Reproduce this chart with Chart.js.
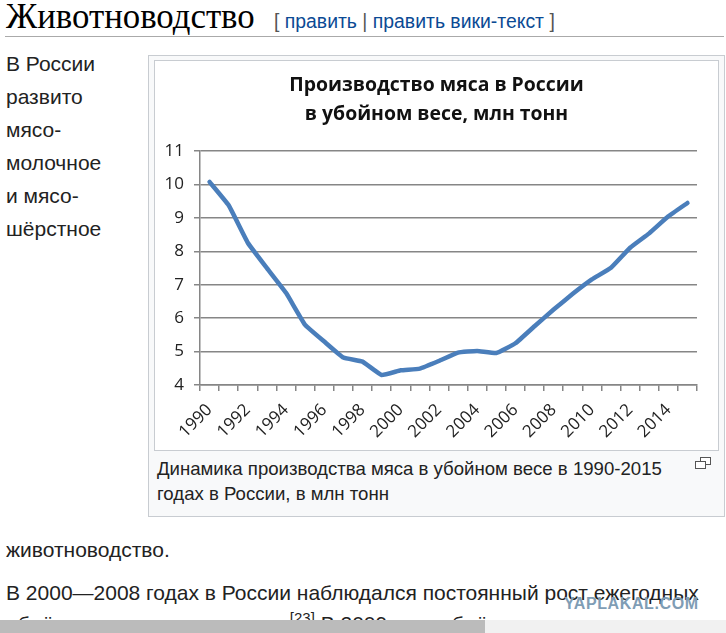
<!DOCTYPE html>
<html lang="ru">
<head>
<meta charset="utf-8">
<title>Животноводство</title>
<script src="https://cdn.jsdelivr.net/npm/chart.js@4"></script>
<style>
html, body { margin: 0; padding: 0; background: #fff; overflow: hidden; }
body { width: 726px; height: 633px; position: relative; font-family: "Liberation Sans", sans-serif; color: #222; }
.t { position: absolute; white-space: nowrap; font-size: 21px; line-height: 24px; }
.t a { color: #0b4a94; text-decoration: none; }
.t .g { color: #555; }
#heading { left: 6px; top: 0; font-family: "Liberation Serif", serif; font-size: 34.8px; line-height: 34px; color: #000; }
#edit { left: 274px; top: 9px; font-size: 19.4px; }
#rule { position: absolute; left: 5px; top: 36px; width: 719px; height: 1px; background: #aaa; }
#figure { position: absolute; left: 148px; top: 55px; width: 575px; height: 460px; background: #f8f9fa; border: 1px solid #c8ccd1; }
#frame { position: absolute; left: 154px; top: 60px; width: 563px; height: 389px; background: #fff; border: 1px solid #c8ccd1; }
#frame canvas { display: block; }
.t.cap { font-size: 18.6px; }
.icon { position: absolute; width: 9px; height: 6px; border: 1px solid #555; background: #fff; }
#bar { position: absolute; left: 0; top: 620px; width: 726px; height: 13px; background: #f1f1f1; }
#thumb { position: absolute; left: 0; top: 0; width: 485px; height: 13px; background: #bbb; }
#mark { left: 564px; top: 592px; font-size: 16px; font-weight: bold; color: #7f9db5; letter-spacing: .6px; }
sup { font-size: 15px; line-height: 0; }
</style>
</head>
<body>
<div class="t" id="heading">Животноводство</div>
<div class="t" id="edit"><span class="g">[</span> <a>править</a> <span class="g">|</span> <a>править вики-текст</a> <span class="g">]</span></div>
<div id="rule"></div>

<div class="t" style="left:6px;top:52px">В России</div>
<div class="t" style="left:6px;top:85px">развито</div>
<div class="t" style="left:6px;top:118px">мясо-</div>
<div class="t" style="left:6px;top:151px">молочное</div>
<div class="t" style="left:6px;top:184px">и мясо-</div>
<div class="t" style="left:6px;top:217px">шёрстное</div>

<div id="figure"></div>
<div id="frame"><canvas id="meatChart"></canvas></div>
<div class="t cap" style="left:157px;top:457px">Динамика производства мяса в убойном весе в 1990-2015</div>
<div class="t cap" style="left:157px;top:482px">годах в России, в млн тонн</div>
<div class="icon" style="left:700px;top:457px"></div>
<div class="icon" style="left:695px;top:461px"></div>

<div class="t" style="left:6px;top:538px">животноводство.</div>
<div class="t" style="left:6px;top:581px">В 2000—2008 годах в России наблюдался постоянный рост ежегодных</div>
<div class="t" style="left:6px;top:612px">объёмов производства мяса.<sup>[23]</sup> В 2009 году объём</div>
<div class="t" id="mark">YAPLAKAL.COM</div>
<div id="bar"><div id="thumb"></div></div>

<script>
var years = ['1990','1991','1992','1993','1994','1995','1996','1997','1998','1999','2000','2001','2002',
    '2003','2004','2005','2006','2007','2008','2009','2010','2011','2012','2013','2014','2015'];
var meat = [10.08,9.38,8.26,7.5,6.76,5.8,5.3,4.82,4.7,4.3,4.44,4.49,4.72,
    4.97,5.02,4.96,5.25,5.76,6.26,6.73,7.16,7.51,8.11,8.54,9.05,9.45];
var titleLines = ['Производство мяса в России', 'в убойном весе, млн тонн'];

var frame = document.getElementById('meatChart');
frame.style.width = '563px';
frame.style.height = '389px';

var tickFont = { family: '"Open Sans", sans-serif', size: 17 };

new Chart(frame.getContext('2d'), {
    type: 'line',
    data: {
        labels: years,
        datasets: [{
            data: meat,
            borderColor: '#4a7ebb',
            borderWidth: 4.5,
            pointRadius: 0,
            tension: 0.1,
            borderCapStyle: 'round'
        }]
    },
    options: {
        responsive: false,
        animation: false,
        plugins: {
            legend: { display: false },
            tooltip: { enabled: false },
            title: {
                display: true,
                text: titleLines,
                color: '#111',
                font: { family: '"Open Sans", sans-serif', size: 19.4, weight: 'bold', lineHeight: 1.5 },
                padding: { top: 10, bottom: 22 }
            }
        },
        scales: {
            x: {
                offset: true,
                afterFit: function (scale) { scale.height = 65; },
                border: { color: '#868686', width: 1.5 },
                grid: { offset: true, drawOnChartArea: false, color: '#868686', lineWidth: 1.5, tickLength: 6 },
                ticks: {
                    autoSkip: false,
                    minRotation: 45,
                    maxRotation: 45,
                    padding: 9,
                    color: '#222',
                    font: tickFont,
                    callback: function (value, index) {
                        return index % 2 === 0 ? this.getLabelForValue(value) : '';
                    }
                }
            },
            y: {
                min: 4,
                max: 11,
                afterFit: function (scale) { scale.width = 45; },
                border: { color: '#868686', width: 1.5 },
                grid: { color: '#868686', lineWidth: 1.5, tickLength: 6 },
                ticks: { stepSize: 1, padding: 10, color: '#222', font: tickFont }
            },
            // empty axis on the right, keeps the title centred on the whole frame
            spacer: {
                position: 'right',
                afterFit: function (scale) { scale.width = 21; },
                border: { display: false },
                grid: { display: false },
                ticks: { display: false }
            }
        }
    }
});
</script>
</body>
</html>
